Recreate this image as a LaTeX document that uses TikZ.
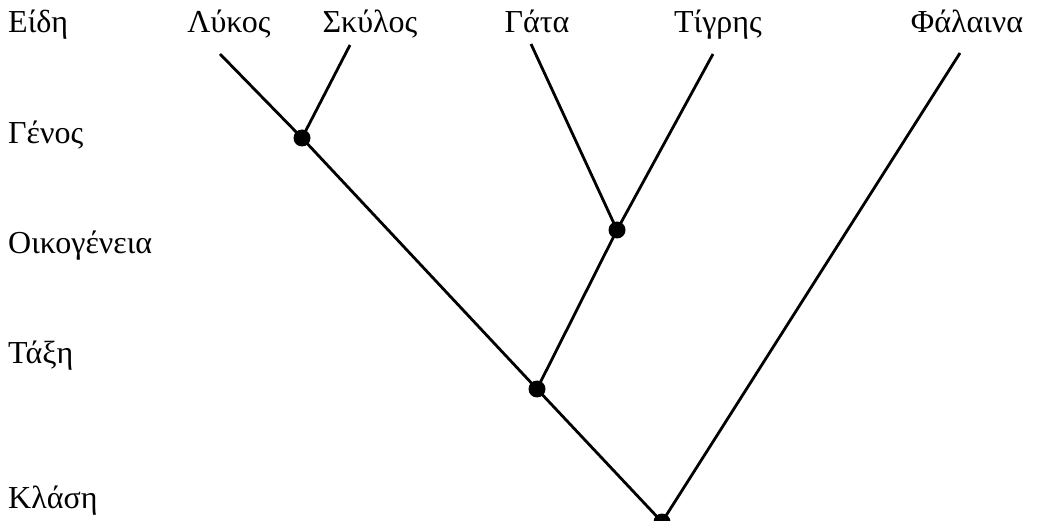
\documentclass[tikz,border=0pt]{standalone}
\usepackage{fontspec}
\setmainfont{Liberation Serif}
\begin{document}
\begin{tikzpicture}[x=1pt,y=-1pt,
  lbl/.style={inner sep=0pt,font=\fontsize{32}{38}\selectfont},
  rank/.style={lbl,anchor=base west},
  species/.style={lbl,anchor=base},
  dot/.style={circle,fill=black,inner sep=0pt,minimum size=17pt},
  branch/.style={line width=2.8pt,black}]
\useasboundingbox (0,0) rectangle (1037,521);
% rank labels
\node[rank] (r1) at (8,33) {Είδη};
\node[rank] (r2) at (8,144) {Γένος};
\node[rank] (r3) at (8,254) {Οικογένεια};
\node[rank] (r4) at (8,364) {Τάξη};
\node[rank] (r5) at (8,508) {Κλάση};
% species labels
\node[species] (s1) at (229,33) {Λύκος};
\node[species] (s2) at (370,33) {Σκύλος};
\node[species] (s3) at (537,33) {Γάτα};
\node[species] (s4) at (718,33) {Τίγρης};
\node[species] (s5) at (967,33) {Φάλαινα};
% free ends of branches
\coordinate (wolf) at (220,54);
\coordinate (dog) at (350,45);
\coordinate (cat) at (531,44);
\coordinate (tiger) at (713,54);
\coordinate (whale) at (960,53);
% inner nodes
\node[dot] (genus) at (302,138) {};
\node[dot] (family) at (617,230) {};
\node[dot] (order) at (537,389) {};
\node[dot] (class) at (662,522) {};
% branches
\draw[branch] (wolf) -- (genus.center);
\draw[branch] (dog) -- (genus.center);
\draw[branch] (genus.center) -- (order.center);
\draw[branch] (cat) -- (family.center);
\draw[branch] (tiger) -- (family.center);
\draw[branch] (family.center) -- (order.center);
\draw[branch] (order.center) -- (class.center);
\draw[branch] (whale) -- (class.center);
\end{tikzpicture}
\end{document}
